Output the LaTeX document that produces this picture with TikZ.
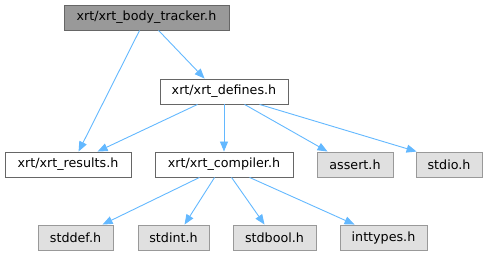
\documentclass[tikz,border=0pt]{standalone}
\usepackage{fontspec}
\setmainfont{DejaVu Sans}
\usetikzlibrary{arrows.meta}
\definecolor{edgeblue}{HTML}{63B8FF}
\definecolor{darkfill}{HTML}{999999}
\definecolor{darkline}{HTML}{666666}
\definecolor{lightfill}{HTML}{E0E0E0}
\definecolor{lightline}{HTML}{999999}
\tikzset{
  basebox/.style={rectangle, inner sep=0pt, minimum height=25pt, font=\fontsize{12.7pt}{14pt}\selectfont, line width=0.9pt, anchor=center},
  topbox/.style={basebox, draw=darkline, fill=darkfill},
  wbox/.style={basebox, draw=darkline, fill=white},
  gbox/.style={basebox, draw=lightline, fill=lightfill},
  dep/.style={draw=edgeblue, line width=0.9pt, -{Triangle[length=10pt,width=8pt]}}
}
\begin{document}
\begin{tikzpicture}[x=1pt,y=-1pt]
\useasboundingbox (0,0) rectangle (488,256);
\node[topbox, minimum width=165pt] (top) at (146.5,17.5) {xrt/xrt\_body\_tracker.h};
\node[wbox, minimum width=128pt] (def) at (224,91.5) {xrt/xrt\_defines.h};
\node[wbox, minimum width=126pt] (res) at (68,164.5) {xrt/xrt\_results.h};
\node[wbox, minimum width=138pt] (comp) at (224,164.5) {xrt/xrt\_compiler.h};
\node[gbox, minimum width=76pt] (assert) at (355,164.5) {assert.h};
\node[gbox, minimum width=66pt] (stdio) at (449,164.5) {stdio.h};
\node[gbox, minimum width=75pt] (stddef) at (75.5,237.5) {stddef.h};
\node[gbox, minimum width=71pt] (stdint) at (173.5,237.5) {stdint.h};
\node[gbox, minimum width=83pt] (stdbool) at (274.5,237.5) {stdbool.h};
\node[gbox, minimum width=87pt] (inttypes) at (383.5,237.5) {inttypes.h};

\draw[dep] ([xshift=76pt]top.south west) -- ([xshift=74pt]res.north west);
\draw[dep] ([xshift=95pt]top.south west) -- ([xshift=45pt]def.north west);
\draw[dep] ([xshift=38pt]def.south west) -- ([xshift=93pt]res.north west);
\draw[dep] (def.south) -- (comp.north);
\draw[dep] ([xshift=85pt]def.south west) -- ([xshift=11pt]assert.north west);
\draw[dep] ([xshift=100pt]def.south west) -- ([xshift=1pt]stdio.north west);
\draw[dep] ([xshift=45pt]comp.south west) -- ([xshift=65pt]stddef.north west);
\draw[dep] ([xshift=60pt]comp.south west) -- ([xshift=47pt]stdint.north west);
\draw[dep] ([xshift=77pt]comp.south west) -- ([xshift=32pt]stdbool.north west);
\draw[dep] ([xshift=95pt]comp.south west) -- ([xshift=15pt]inttypes.north west);
\end{tikzpicture}
\end{document}
